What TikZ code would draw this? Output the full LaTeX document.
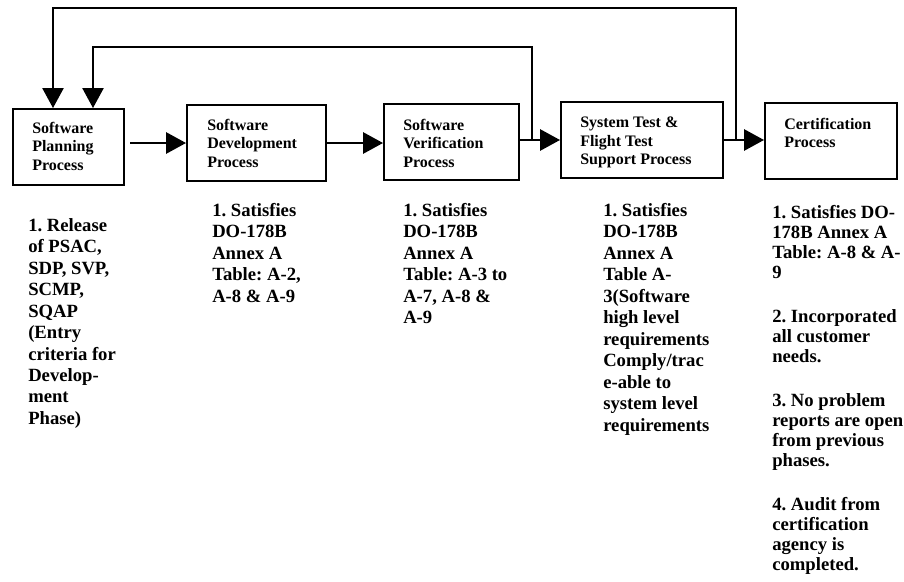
\documentclass[tikz,border=0pt]{standalone}
\usepackage{fontspec}
\setmainfont{Liberation Serif}
\usetikzlibrary{arrows.meta}
\frenchspacing

\begin{document}
\begin{tikzpicture}[x=0.75pt, y=-0.75pt, >={Triangle[length=15pt, width=16pt]},
    proc/.style = {draw, line width=1.5pt, anchor=north west, inner sep=0pt, minimum height=57pt},
    ptxt/.style = {anchor=north west, align=left, inner sep=0pt, font=\fontsize{12}{13.8}\selectfont\bfseries},
    note/.style = {anchor=north west, align=left, inner sep=0pt, font=\fontsize{14}{16.1}\selectfont\bfseries},
    flow/.style = {->, line width=1.5pt},
    back/.style = {->, line width=1pt}]

    \useasboundingbox (0,0) rectangle (904,582);

    % Nodes
    \node[proc, minimum width=83.25pt] (plan) at (12,108) {};
    \node[proc, minimum width=104.25pt] (dev) at (186,104) {};
    \node[proc, minimum width=101.25pt] (verif) at (383,103) {};
    \node[proc, minimum width=121.5pt] (systest) at (560,101) {};
    \node[proc, minimum width=99pt] (cert) at (764,102) {};

    \node[ptxt] (plantxt) at (32,122) {Software\\Planning\\Process};
    \node[ptxt] (devtxt) at (207,119) {Software\\Development\\Process};
    \node[ptxt] (veriftxt) at (403,119) {Software\\Verification\\Process};
    \node[ptxt] (systesttxt) at (580,117) {System Test \&\\Flight Test\\Support Process};
    \node[ptxt] (certtxt) at (784,118) {Certification\\Process};

    % Notes
    \node[note] (plannote) at (28,218) {1. Release\\of PSAC,\\SDP, SVP,\\SCMP,\\SQAP\\(Entry\\criteria for\\Develop-\\ment\\Phase)};
    \node[note] (devnote) at (212,203) {1. Satisfies\\DO-178B\\Annex A\\Table: A-2,\\A-8 \& A-9};
    \node[note] (verifnote) at (403,203) {1. Satisfies\\DO-178B\\Annex A\\Table: A-3 to\\A-7, A-8 \&\\A-9};
    \node[note] (systestnote) at (603,203) {1. Satisfies\\DO-178B\\Annex A\\Table A-\\3(Software\\high level\\requirements\\Comply/trac\\e-able to\\system level\\requirements};
    \node[note, font=\fontsize{14}{15}\selectfont\bfseries] (certnote) at (772,205) {1. Satisfies DO-\\178B Annex A\\Table: A-8 \& A-\\9\\[18pt]2. Incorporated\\all customer\\needs.\\[18pt]3. No problem\\reports are open\\from previous\\phases.\\[18pt]4. Audit from\\certification\\agency is\\completed.};

    \coordinate (outer) at (53,8);
    \coordinate (inner) at (93,47);
    \coordinate (fbout) at (736,139);
    \coordinate (fbin) at (532,139);

    % Edges
    \draw[flow] ([xshift=3.75pt]plan.east |- dev.west) -- (dev.west);
    \draw[flow] (dev.east) -- (dev.east -| verif.west);
    \draw[flow] (verif.east |- systest.west) -- (systest.west);
    \draw[flow] (systest.east) -- (systest.east -| cert.west);

    \draw[back] (fbout) |- (outer) -- (outer |- plan.north);
    \draw[back] (fbin) |- (inner) -- (inner |- plan.north);

\end{tikzpicture}
\end{document}
